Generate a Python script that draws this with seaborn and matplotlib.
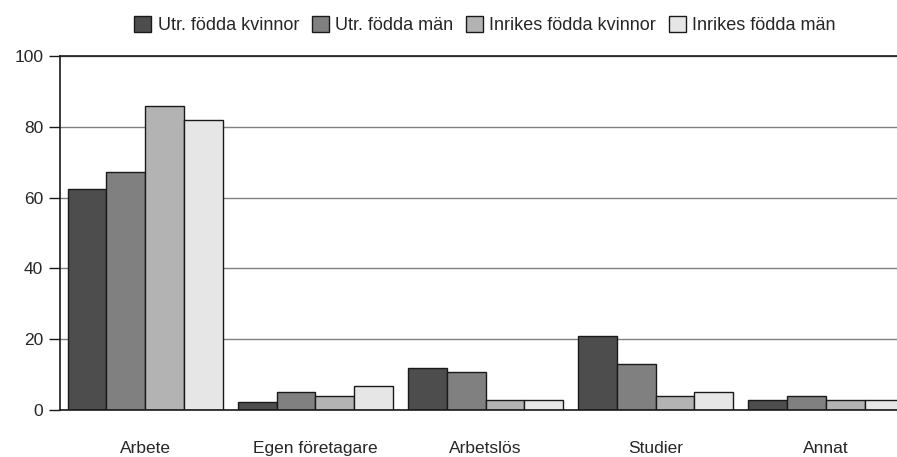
import pandas as pd
import matplotlib.pyplot as plt
import seaborn as sns

categories = ["Arbete", "Egen företagare", "Arbetslös", "Studier", "Annat"]
groups = ["Utr. födda kvinnor", "Utr. födda män", "Inrikes födda kvinnor", "Inrikes födda män"]
utr_kvinnor = [62.3, 2.3, 11.9, 20.9, 2.8]
utr_man = [67.3, 5.1, 10.8, 13.0, 4.0]
inr_kvinnor = [86.0, 4.0, 2.8, 4.0, 2.8]
inr_man = [82.0, 6.9, 2.8, 5.1, 2.8]
colors = ["#4d4d4d", "#808080", "#b3b3b3", "#e6e6e6"]

# long format for seaborn
rows = []
for g, vals in zip(groups, [utr_kvinnor, utr_man, inr_kvinnor, inr_man]):
    for c, v in zip(categories, vals):
        rows.append({"kategori": c, "grupp": g, "andel": v})
df = pd.DataFrame(rows)

sns.set_style("white")
plt.rcParams['font.family'] = ['Liberation Sans', 'DejaVu Sans']

fig = plt.figure(figsize=(8.97, 4.57), dpi=100)
W, H = 897, 457
ax = fig.add_axes([60 / W, (H - 410) / H, (911 - 60) / W, (410 - 56) / H])

sns.barplot(data=df, x="kategori", y="andel", hue="grupp", order=categories,
            hue_order=groups, palette=colors, width=0.91, edgecolor="#1a1a1a",
            linewidth=1, saturation=1, ax=ax)

ax.set_ylim(0, 100)
ax.set_xlim(-0.5, 4.5)
ax.set_yticks([0, 20, 40, 60, 80, 100])
ax.yaxis.grid(True, color="#808080", linewidth=1)
ax.set_axisbelow(True)
ax.set_xlabel("")
ax.set_ylabel("")
for s in ["left", "bottom", "top"]:
    ax.spines[s].set_color("#1a1a1a")
    ax.spines[s].set_linewidth(1.2)
ax.spines["right"].set_visible(False)
ax.tick_params(axis="y", length=8, width=1, color="#1a1a1a", labelsize=12.5, pad=4, left=True)
ax.tick_params(axis="x", length=0, labelsize=12.5, pad=22)

handles, labels = ax.get_legend_handles_labels()
ax.legend(handles, labels, loc="center", bbox_to_anchor=(485 / W, (H - 25) / H),
          bbox_transform=fig.transFigure, ncol=4, frameon=False, fontsize=13,
          handlelength=0.95, handleheight=0.95, handletextpad=0.35, columnspacing=0.7)

plt.savefig("out.png", dpi=100)
